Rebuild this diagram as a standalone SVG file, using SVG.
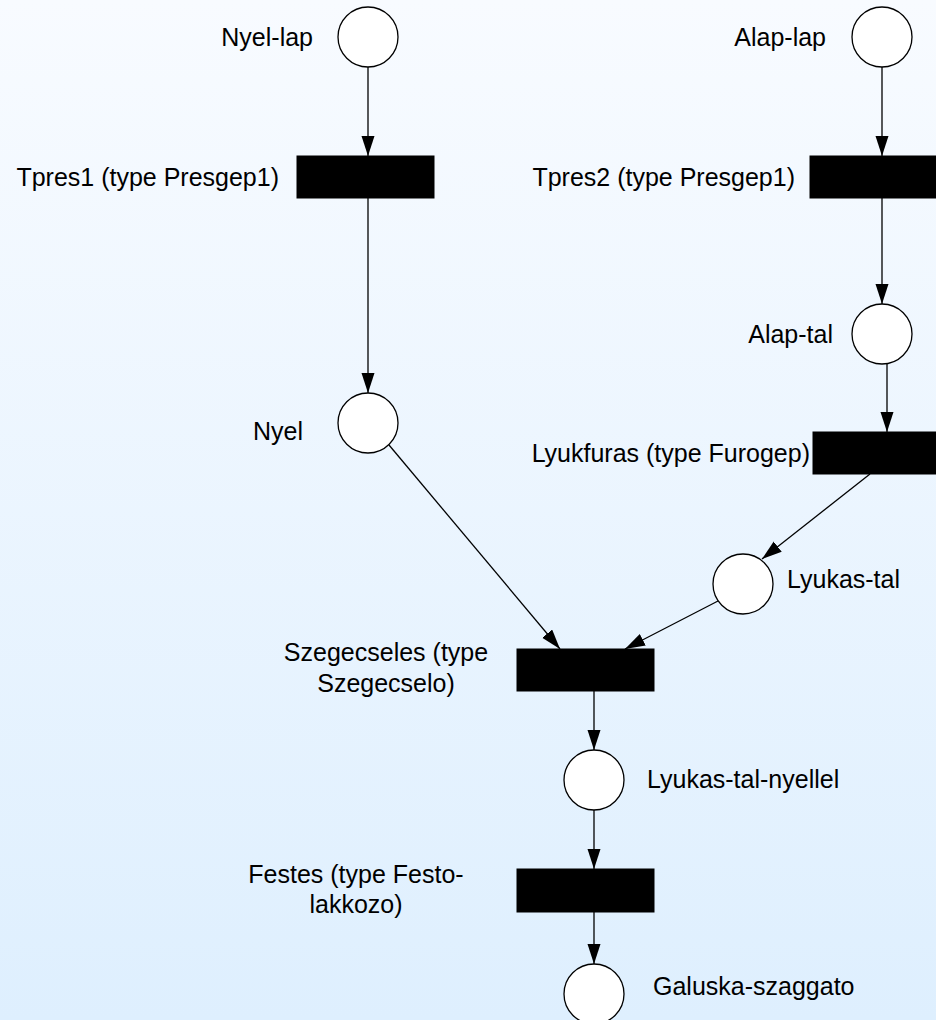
<svg xmlns="http://www.w3.org/2000/svg" width="936" height="1020" viewBox="0 0 936 1020">
<defs>
<linearGradient id="bg" x1="0" y1="0" x2="0" y2="1">
<stop offset="0" stop-color="#f8fbff"/>
<stop offset="1" stop-color="#deeffe"/>
</linearGradient>
<marker id="arr" markerUnits="userSpaceOnUse" markerWidth="20" markerHeight="14" refX="20" refY="6.5" orient="auto">
<path d="M0,0 L20,6.5 L0,13 z" fill="#000"/>
</marker>
</defs>
<style>
.place{fill:#fff;stroke:#000;stroke-width:1.3}
.trans{fill:#000;stroke:#000;stroke-width:1}
.lbl{font-family:"Liberation Sans",Arial,sans-serif;font-size:25px;fill:#000}
.end{text-anchor:end}
.mid{text-anchor:middle}
.arc{stroke:#000;stroke-width:1.3;fill:none;marker-end:url(#arr)}
</style>
<rect x="0" y="0" width="936" height="1020" fill="url(#bg)"/>
<g id="connectors">
<line class="arc" x1="368" y1="67" x2="368" y2="156"/>
<line class="arc" x1="368" y1="198" x2="368" y2="393"/>
<line class="arc" x1="882" y1="67" x2="882" y2="156"/>
<line class="arc" x1="882" y1="198" x2="882" y2="304"/>
<line class="arc" x1="887" y1="363" x2="887" y2="432"/>
<line class="arc" x1="870" y1="474" x2="762" y2="559"/>
<line class="arc" x1="718" y1="601" x2="625" y2="649"/>
<line class="arc" x1="389" y1="445" x2="560" y2="649"/>
<line class="arc" x1="594" y1="691" x2="594" y2="750"/>
<line class="arc" x1="594" y1="810" x2="594" y2="869"/>
<line class="arc" x1="594" y1="912" x2="594" y2="964"/>
</g>
<g id="nyel-lap">
<circle class="place" cx="368" cy="37" r="30"/>
<text class="lbl end" x="313" y="46">Nyel-lap</text>
</g>
<g id="alap-lap">
<circle class="place" cx="882" cy="37" r="30"/>
<text class="lbl end" x="826" y="46">Alap-lap</text>
</g>
<g id="tpres1">
<rect class="trans" x="297" y="156" width="137" height="42"/>
<text class="lbl end" x="279" y="186">Tpres1 (type Presgep1)</text>
</g>
<g id="tpres2">
<rect class="trans" x="810" y="156" width="137" height="42"/>
<text class="lbl end" x="795" y="186">Tpres2 (type Presgep1)</text>
</g>
<g id="alap-tal">
<circle class="place" cx="882" cy="334" r="30"/>
<text class="lbl end" x="833" y="343">Alap-tal</text>
</g>
<g id="lyukfuras">
<rect class="trans" x="813" y="432" width="137" height="42"/>
<text class="lbl end" x="810" y="462">Lyukfuras (type Furogep)</text>
</g>
<g id="nyel">
<circle class="place" cx="368" cy="423" r="30"/>
<text class="lbl end" x="303" y="440">Nyel</text>
</g>
<g id="lyukas-tal">
<circle class="place" cx="743" cy="584" r="30"/>
<text class="lbl" x="787" y="588">Lyukas-tal</text>
</g>
<g id="szegecseles">
<rect class="trans" x="517" y="649" width="137" height="42"/>
<text class="lbl mid" x="386" y="661">Szegecseles (type</text>
<text class="lbl mid" x="386" y="692">Szegecselo)</text>
</g>
<g id="lyukas-tal-nyellel">
<circle class="place" cx="594" cy="780" r="30"/>
<text class="lbl" x="647" y="788">Lyukas-tal-nyellel</text>
</g>
<g id="festes">
<rect class="trans" x="517" y="869" width="137" height="43"/>
<text class="lbl mid" x="356" y="883">Festes (type Festo-</text>
<text class="lbl mid" x="356" y="913">lakkozo)</text>
</g>
<g id="galuska-szaggato">
<circle class="place" cx="594" cy="994" r="30"/>
<text class="lbl" x="653" y="995">Galuska-szaggato</text>
</g>
</svg>
